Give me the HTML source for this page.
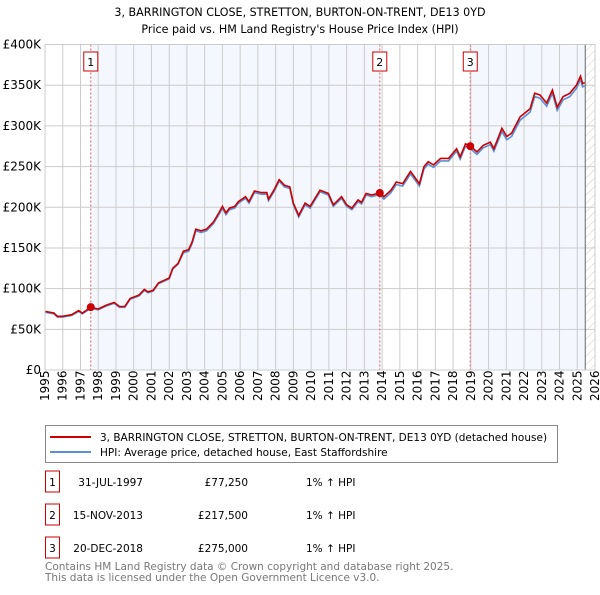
<!DOCTYPE html>
<html><head><meta charset="utf-8"><style>
body{margin:0;background:#fff;font-family:"Liberation Sans","DejaVu Sans",sans-serif;}
svg text{font-family:"DejaVu Sans","Liberation Sans",sans-serif;}
</style></head><body>
<svg id="c" width="600" height="590" xmlns="http://www.w3.org/2000/svg">
<defs><pattern id="hatch" width="6" height="6" patternUnits="userSpaceOnUse" patternTransform="rotate(45)"><line x1="0" y1="0" x2="0" y2="6" stroke="#ccc" stroke-width="1"/></pattern></defs>
<text x="300" y="16" text-anchor="middle" font-size="11.1">3, BARRINGTON CLOSE, STRETTON, BURTON-ON-TRENT, DE13 0YD</text>
<text x="300" y="33" text-anchor="middle" font-size="11.1">Price paid vs. HM Land Registry's House Price Index (HPI)</text>
<g id="plot"></g>
<g>
<rect x="45.5" y="425.5" width="512" height="37" fill="#fff" stroke="#888"/>
<line x1="50" y1="437" x2="91" y2="437" stroke="#cc0000" stroke-width="2"/>
<text x="100" y="441" font-size="10.5">3, BARRINGTON CLOSE, STRETTON, BURTON-ON-TRENT, DE13 0YD (detached house)</text>
<line x1="50" y1="452" x2="91" y2="452" stroke="#5b8fd6" stroke-width="2"/>
<text x="100" y="456" font-size="10.5">HPI: Average price, detached house, East Staffordshire</text>
</g>
<g id="table" font-size="10.5"></g>
<text x="45" y="570" font-size="10.5" fill="#777">Contains HM Land Registry data © Crown copyright and database right 2025.</text>
<text x="45" y="581" font-size="10.5" fill="#777">This data is licensed under the Open Government Licence v3.0.</text>
</svg>
<script>
const years=[1995.0,1995.5,1995.7,1996.0,1996.5,1996.9,1997.1,1997.58,1998.0,1998.5,1998.9,1999.2,1999.5,1999.8,2000.3,2000.6,2000.8,2001.1,2001.4,2001.8,2002.0,2002.2,2002.5,2002.8,2003.1,2003.3,2003.5,2003.8,2004.1,2004.5,2004.8,2005.0,2005.2,2005.4,2005.7,2005.9,2006.3,2006.5,2006.8,2007.2,2007.5,2007.6,2007.9,2008.2,2008.5,2008.8,2009.0,2009.3,2009.66,2009.94,2010.5,2010.97,2011.25,2011.72,2012.0,2012.3,2012.65,2012.84,2013.1,2013.4,2013.87,2014.1,2014.5,2014.8,2015.16,2015.6,2016.1,2016.36,2016.6,2016.9,2017.3,2017.75,2018.2,2018.4,2018.7,2018.97,2019.35,2019.7,2020.1,2020.3,2020.75,2021.03,2021.3,2021.78,2022.34,2022.6,2022.9,2023.28,2023.6,2023.87,2024.2,2024.58,2024.95,2025.18,2025.3,2025.42];
const propValues=[72,70,66,66,68,73,70,77,75,80,83,78,78,88,92,99,96,98,107,111,113,125,131,146,148,158,173,171,173,182,193,201,193,199,201,207,213,207,220,218,218,210,221,234,227,225,205,190,205,201,221,217,203,213,203,199,209,206,217,215,217.5,213,221,231,229,244,229,250,256,252,260,260,272,262,278,275,268,276,280,272,297,287,291,311,321,340,338,328,344,323,336,340,350,361,352,353];
const hpiOffset=[-1,-1,-1,-1,-1,-1,-1,-1,-1,-1,-1,-1,-1,-1,-1,-1,-1,-1,-1,-1,-1,-1,-1,-2,-2,-2,-2,-2,-2,-2,-2,-2,-2,-2,-2,-2,-2,-2,-2,-2,-2,-2,-2,-2,-2,-2,-2,-2,-2,-2,-2,-2,-2,-2,-2,-2,-2,-2,-2,-2,-2,-3,-3,-3,-3,-3,-3,-3,-3,-3,-3,-3,-3,-3,-3,-3,-3,-3,-3,-3,-4,-4,-4,-4,-4,-4,-4,-4,-4,-4,-4,-4,-4,-4,-4,-4];
const hpiValues=propValues.map((v,i)=>v+hpiOffset[i]);
const saleYears=[1997.58,2013.87,2018.97];
const saleValues=[77.25,217.5,275];
const saleDates=["31-JUL-1997","15-NOV-2013","20-DEC-2018"];
const salePrices=["£77,250","£217,500","£275,000"];
const saleHpi=["1% ↑ HPI","1% ↑ HPI","1% ↑ HPI"];
const yTicks=[0,50,100,150,200,250,300,350,400];
const yLabels=["£0","£50K","£100K","£150K","£200K","£250K","£300K","£350K","£400K"];
const xTicks=[1995,1996,1997,1998,1999,2000,2001,2002,2003,2004,2005,2006,2007,2008,2009,2010,2011,2012,2013,2014,2015,2016,2017,2018,2019,2020,2021,2022,2023,2024,2025,2026];

const X0=45,X1=595,Y0=370,Y1=44.5,xmin=1995,xmax=2026,ymax=400,dataEnd=2025.45;
const xs=y=>X0+(y-xmin)/(xmax-xmin)*(X1-X0);
const ys=v=>Y0-v/ymax*(Y0-Y1);
const NS="http://www.w3.org/2000/svg";
const g=document.getElementById('plot');
function mk(t,a,p){const e=document.createElementNS(NS,t);for(const k in a)e.setAttribute(k,a[k]);(p||g).appendChild(e);return e;}
let e;
const bands=[[saleYears[0],saleYears[1]],[saleYears[2],dataEnd]];
bands.forEach(b=>{e=mk('rect',{x:xs(b[0]),y:Y1,width:xs(b[1])-xs(b[0]),height:Y0-Y1,fill:'#f4f7fe'});

});
e=mk('rect',{x:xs(dataEnd),y:Y1,width:X1-xs(dataEnd),height:Y0-Y1,fill:'url(#hatch)'});


yTicks.forEach((t,i)=>{e=mk('line',{x1:X0,x2:X1,y1:ys(t),y2:ys(t),stroke:'#ccc'});


e=mk('text',{x:X0-4,y:ys(t)+4,'text-anchor':'end','font-size':12});e.textContent=yLabels[i];

});
xTicks.forEach(t=>{e=mk('line',{x1:xs(t),x2:xs(t),y1:Y1,y2:Y0,stroke:'#ccc'});


e=mk('text',{x:0,y:0,'font-size':12,transform:`translate(${xs(t)+4},${Y0+31}) rotate(-90)`});e.textContent=t;

});
e=mk('line',{x1:xs(dataEnd),x2:xs(dataEnd),y1:Y1,y2:Y0,stroke:'#666'});


saleYears.forEach((s,i)=>{e=mk('line',{x1:xs(s),x2:xs(s),y1:Y1,y2:Y0,stroke:'#e06060','stroke-dasharray':'2,2'});


e=mk('rect',{x:xs(s)-7,y:52,width:14,height:19,fill:'#fff',stroke:'#cc0000'});


e=mk('text',{x:xs(s),y:66,'text-anchor':'middle','font-size':11});e.textContent=i+1;

});
const pts=vals=>years.map((y,i)=>xs(y).toFixed(1)+','+ys(vals[i]).toFixed(1)).join(' ');
e=mk('polyline',{points:pts(hpiValues),fill:'none',stroke:'#5b8fd6','stroke-width':1.6});


e=mk('polyline',{points:pts(propValues),fill:'none',stroke:'#cc0000','stroke-width':1.6});


saleYears.forEach((s,i)=>{e=mk('circle',{cx:xs(s),cy:ys(saleValues[i]),r:4,fill:'#cc0000'});

});
mk('rect',{x:X0,y:Y1,width:X1-X0,height:Y0-Y1,fill:'none',stroke:'#ccc'});
const tb=document.getElementById('table');
const rowY=[482,515,548];
saleDates.forEach((d,i)=>{const y=rowY[i];
e=mk('rect',{x:45.5,y:y-11,width:14,height:21,fill:'#fff',stroke:'#cc0000'},tb);


e=mk('text',{x:52.5,y:y+4,'text-anchor':'middle'},tb);e.textContent=i+1;


e=mk('text',{x:143,y:y+4,'text-anchor':'end'},tb);e.textContent=d;


e=mk('text',{x:248,y:y+4,'text-anchor':'end'},tb);e.textContent=salePrices[i];


e=mk('text',{x:306,y:y+4},tb);e.textContent=saleHpi[i];

});
</script>
</body></html>
